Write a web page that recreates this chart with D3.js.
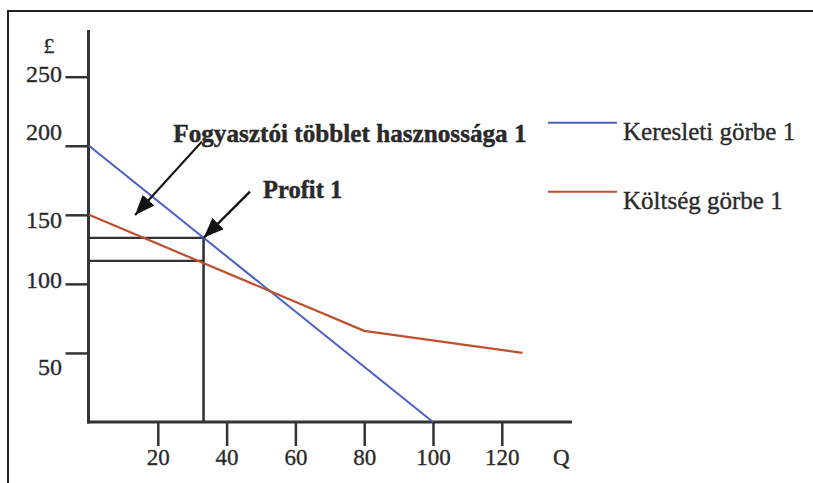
<!DOCTYPE html>
<html>
<head>
<meta charset="utf-8">
<script src="https://cdn.jsdelivr.net/npm/d3@7"></script>
<style>
  html, body { margin: 0; padding: 0; background: #fff; }
  svg { display: block; }
  text { font-family: "Liberation Serif", "Times New Roman", serif; fill: #2b2b2b; }
</style>
</head>
<body>
<svg id="chart" width="813" height="483"></svg>
<script>
// ---- Data ----
const demandQ = [0, 100];
const demandP = [200, 0];
const costQ = [0, 80, 126];
const costP = [150, 66, 50];
const xTicks = [20, 40, 60, 80, 100, 120];
const yTicks = [50, 100, 150, 200, 250];
const profitQ = 33.3;
const priceAtQ = 133.3;
const costAtQ = 116.7;
const seriesNames = ["Keresleti görbe 1", "Költség görbe 1"];
const annotationTexts = ["Fogyasztói többlet hasznossága 1", "Profit 1"];
const annotationAnchor = [[24.5, 203], [50.6, 162]];
const arrowFrom = [[32.8, 203], [46.8, 166.8]];
const arrowTo = [[13.4, 149.9], [33.4, 133.5]];
const xAxisName = "Q";
const yAxisName = "£";

// ---- Layout / style ----
const svg = d3.select("#chart");
const x = d3.scaleLinear().domain([0, 120]).range([89, 501.8]);
const y = d3.scaleLinear().domain([0, 250]).range([422, 76.7]);
const axisColor = "#333";
const textColor = "#2a2a2a";
const blue = "#4a5ec6";
const red = "#c04e2c";
const yLabelNudge = { 250: -3, 200: -14.5, 150: 5, 100: -5, 50: 13.5 };

// Frame
svg.append("path")
  .attr("d", "M8,483 L8,11 L813,11")
  .attr("fill", "none").attr("stroke", "#222").attr("stroke-width", 2);

// Y axis
const yAxis = d3.axisLeft(y).tickValues(yTicks).tickSize(23).tickSizeOuter(0).tickFormat(d3.format("d"));
const gy = svg.append("g").attr("transform", "translate(88.5,0)").call(yAxis);
gy.select(".domain").remove();
gy.selectAll(".tick line").attr("stroke", axisColor).attr("stroke-width", 2.5);
gy.selectAll(".tick text")
  .attr("x", -26.5)
  .attr("dy", d => (0.34 + yLabelNudge[d] / 24) + "em")
  .attr("font-size", 24)
  .attr("font-family", "Liberation Serif")
  .attr("fill", textColor)
  .attr("stroke", textColor).attr("stroke-width", 0.35);
svg.append("line")
  .attr("x1", 88.5).attr("x2", 88.5).attr("y1", 30).attr("y2", y(0) + 1.5)
  .attr("stroke", axisColor).attr("stroke-width", 3);

// X axis
const xAxis = d3.axisBottom(x).tickValues(xTicks).tickSize(24).tickSizeOuter(0).tickFormat(d3.format("d"));
const gx = svg.append("g").attr("transform", "translate(0," + y(0) + ")").call(xAxis);
gx.select(".domain").remove();
gx.selectAll(".tick line").attr("stroke", axisColor).attr("stroke-width", 2.5);
gx.selectAll(".tick text")
  .attr("y", 43).attr("dy", 0)
  .attr("font-size", 23)
  .attr("font-family", "Liberation Serif")
  .attr("fill", textColor)
  .attr("stroke", textColor).attr("stroke-width", 0.35);
svg.append("line")
  .attr("x1", 87).attr("x2", 572).attr("y1", y(0)).attr("y2", y(0))
  .attr("stroke", axisColor).attr("stroke-width", 3);

// Axis names
svg.append("text").attr("x", 553).attr("y", 465).attr("font-size", 23)
  .attr("fill", textColor).attr("stroke", textColor).attr("stroke-width", 0.35).text(xAxisName);
svg.append("text").attr("x", 49).attr("y", 53).attr("text-anchor", "middle").attr("font-size", 22)
  .attr("fill", textColor).attr("stroke", textColor).attr("stroke-width", 0.35).text(yAxisName);

// Profit rectangle lines
const rectStroke = 2.2;
svg.append("line")
  .attr("x1", x(0)).attr("x2", x(profitQ) + 1).attr("y1", y(priceAtQ)).attr("y2", y(priceAtQ))
  .attr("stroke", axisColor).attr("stroke-width", rectStroke);
svg.append("line")
  .attr("x1", x(0)).attr("x2", x(profitQ)).attr("y1", y(costAtQ)).attr("y2", y(costAtQ))
  .attr("stroke", axisColor).attr("stroke-width", rectStroke);
svg.append("line")
  .attr("x1", x(profitQ)).attr("x2", x(profitQ)).attr("y1", y(priceAtQ)).attr("y2", y(0))
  .attr("stroke", axisColor).attr("stroke-width", 2.6);

// Curves
const line = d3.line().x(d => x(d[0])).y(d => y(d[1]));
svg.append("path")
  .datum(demandQ.map((q, i) => [q, demandP[i]]))
  .attr("d", line).attr("fill", "none").attr("stroke", blue).attr("stroke-width", 2);
svg.append("path")
  .datum(costQ.map((q, i) => [q, costP[i]]))
  .attr("d", line).attr("fill", "none").attr("stroke", red).attr("stroke-width", 2.2);

// Arrows
const defs = svg.append("defs");
defs.append("marker")
  .attr("id", "arrowhead")
  .attr("viewBox", "0 0 20 16")
  .attr("refX", 20).attr("refY", 8)
  .attr("markerWidth", 20).attr("markerHeight", 16)
  .attr("markerUnits", "userSpaceOnUse")
  .attr("orient", "auto")
  .append("path").attr("d", "M0,0 L20,8 L0,16 Z").attr("fill", "#111");
arrowFrom.forEach((f, i) => {
  svg.append("line")
    .attr("x1", x(f[0])).attr("y1", y(f[1]))
    .attr("x2", x(arrowTo[i][0])).attr("y2", y(arrowTo[i][1]))
    .attr("stroke", "#111").attr("stroke-width", 2.2)
    .attr("marker-end", "url(#arrowhead)");
});

// Annotation texts
const annotationSizes = [25.2, 24.5];
annotationTexts.forEach((t, i) => {
  svg.append("text")
    .attr("x", x(annotationAnchor[i][0])).attr("y", y(annotationAnchor[i][1]))
    .attr("font-size", annotationSizes[i]).attr("font-weight", "bold")
    .attr("fill", "#151515").attr("stroke", "#151515").attr("stroke-width", 0.4)
    .text(t);
});

// Legend
const legendColors = [blue, red];
const legendY = [122.7, 191.7];
seriesNames.forEach((name, i) => {
  svg.append("line")
    .attr("x1", 548).attr("x2", 617).attr("y1", legendY[i]).attr("y2", legendY[i])
    .attr("stroke", legendColors[i]).attr("stroke-width", 2);
  svg.append("text")
    .attr("x", 623).attr("y", legendY[i] + 17.5)
    .attr("font-size", 25).attr("fill", textColor)
    .attr("stroke", textColor).attr("stroke-width", 0.35)
    .text(name);
});
</script>
</body>
</html>
